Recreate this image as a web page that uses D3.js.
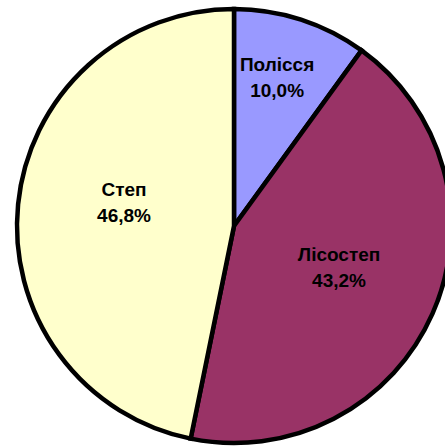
<!DOCTYPE html>
<html>
<head>
<meta charset="utf-8">
<script src="https://cdn.jsdelivr.net/npm/d3@7"></script>
<style>
html,body{margin:0;padding:0;background:#fff;overflow:hidden;}
svg{display:block;}
</style>
</head>
<body>
<svg id="chart" width="445" height="446"></svg>
<script>
const categories = ["Полісся", "Лісостеп", "Степ"];
const values = [10.0, 43.2, 46.8];
const colors = ["#9999FF", "#993366", "#FFFFCC"];

// label placement (Excel "best fit" style): radius fraction and angle nudge
const labelRadius = [0.716, 0.519, 0.519];
const labelAngleNudge = [-1.9, -2.6, 6.7];

const svg = d3.select("#chart");
const cx = 234, cy = 226, r = 217;
const g = svg.append("g").attr("transform", `translate(${cx},${cy})`);

const data = categories.map((c, i) => ({name: c, value: values[i], color: colors[i], i}));
const pie = d3.pie().value(d => d.value).sort(null);
const arcs = pie(data);
const arc = d3.arc().innerRadius(0).outerRadius(r);

g.selectAll("path.slice").data(arcs).enter().append("path")
  .attr("class", "slice")
  .attr("d", arc)
  .attr("fill", d => d.data.color)
  .attr("stroke", "#000")
  .attr("stroke-width", 4.5)
  .attr("stroke-linejoin", "miter");

const fmt = v => v.toFixed(1).replace(".", ",") + "%";

function labelPos(d) {
  const i = d.data.i;
  const a = (d.startAngle + d.endAngle) / 2 + labelAngleNudge[i] * Math.PI / 180;
  const rr = r * labelRadius[i];
  return [rr * Math.sin(a), -rr * Math.cos(a)];
}

const labels = g.selectAll("text.lbl").data(arcs).enter().append("text")
  .attr("class", "lbl")
  .attr("transform", d => {
    const [x, y] = labelPos(d);
    return `translate(${x},${y})`;
  })
  .attr("text-anchor", "middle")
  .attr("font-family", "Liberation Sans, Arial, sans-serif")
  .attr("font-weight", "bold")
  .attr("font-size", "19px")
  .attr("fill", "#000");
labels.append("tspan").attr("x", 0).attr("y", -6).text(d => d.data.name);
labels.append("tspan").attr("x", 0).attr("y", 20).text(d => fmt(d.data.value));
</script>
</body>
</html>
